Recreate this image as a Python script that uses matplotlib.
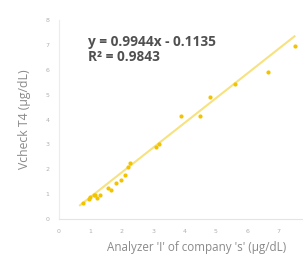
import matplotlib.pyplot as plt
import numpy as np

# values
analyzer_i = [0.77, 0.95, 1.0, 1.1, 1.16, 1.2, 1.3, 1.55, 1.65, 1.8, 1.97, 2.1, 2.2, 2.25,
              3.1, 3.2, 3.9, 4.5, 4.8, 5.6, 6.65, 7.5]
vcheck_t4 = [0.65, 0.8, 0.9, 0.95, 0.97, 0.85, 0.97, 1.25, 1.17, 1.45, 1.58, 1.78, 2.1, 2.27,
             2.9, 3.0, 4.13, 4.13, 4.9, 5.42, 5.9, 6.96]
slope = 0.9944
intercept = -0.1135
r_squared = 0.9843
x_ticks = [0, 1, 2, 3, 4, 5, 6, 7]
y_ticks = [0, 1, 2, 3, 4, 5, 6, 7, 8]

W, H = 303, 262
fig = plt.figure(figsize=(W / 100, H / 100), dpi=100)
ax = fig.add_axes([59 / W, 43 / H, (W - 59) / W, 199 / H])

# trendline
xs = np.array([min(analyzer_i) - 0.1, max(analyzer_i)])
ax.plot(xs, slope * xs + intercept, color='#f7e27f', lw=1.5, zorder=2, clip_on=False)

# points
ax.scatter(analyzer_i, vcheck_t4, s=9, color='#f2c400', zorder=3, clip_on=False, linewidths=0)

ax.set_xlim(0, (W - 59) / 31.4)
ax.set_ylim(0, 8)
ax.set_xticks(x_ticks)
ax.set_yticks(y_ticks)
ax.tick_params(length=0, labelsize=4.5, labelcolor='#b0b0b0', pad=7)

for s in ['top', 'right']:
    ax.spines[s].set_visible(False)
ax.spines['left'].set_color('#ececec')
ax.spines['bottom'].set_color('#e4e4e4')
ax.spines['bottom'].set_linestyle((0, (2, 1)))
ax.spines['left'].set_linewidth(0.8)
ax.spines['bottom'].set_linewidth(0.8)

ax.text(88 / W, 1 - 42 / H, 'y = {}x - {}'.format(slope, abs(intercept)),
        transform=fig.transFigure, family='Open Sans', fontweight='bold',
        fontsize=9.8, color='#505050', va='center', ha='left')
ax.text(88 / W, 1 - 57 / H, 'R² = {}'.format(r_squared),
        transform=fig.transFigure, family='Open Sans', fontweight='bold',
        fontsize=9.8, color='#505050', va='center', ha='left')

fig.text(25 / W, 1 - 119 / H, 'Vcheck T4 (µg/dL)', rotation=90, family='Open Sans',
         fontsize=8.8, color='#8a8a8a', va='center', ha='center')
fig.text(107 / W, 1 - 248 / H, "Analyzer 'I' of company 's' (µg/dL)", family='Open Sans',
         fontsize=8.4, color='#8a8a8a', va='center', ha='left')

fig.savefig('out.png', dpi=100)
